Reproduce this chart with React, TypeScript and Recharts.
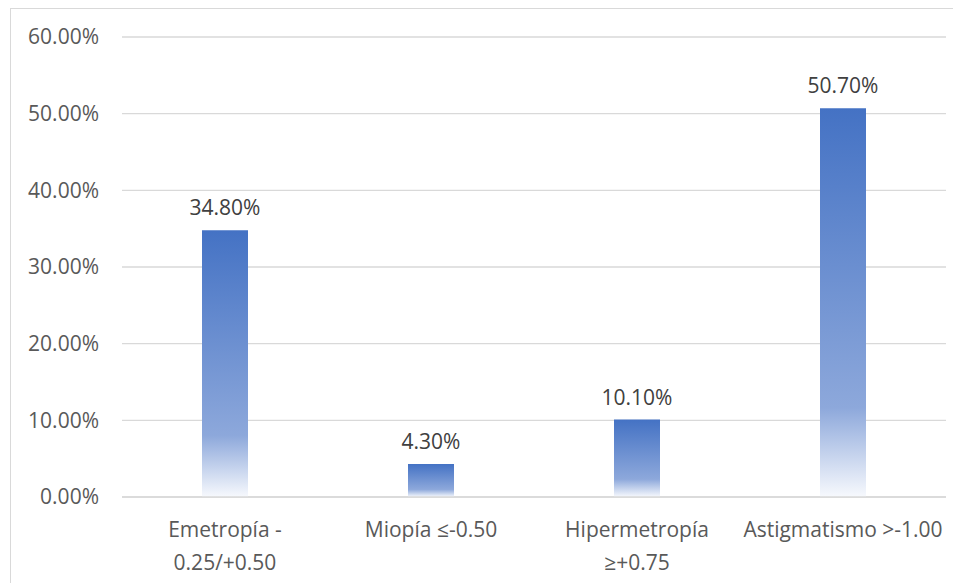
import React from "react";
import { BarChart, Bar, XAxis, YAxis, CartesianGrid, LabelList } from "recharts";

const categories = ["Emetropía -0.25/+0.50", "Miopía ≤-0.50", "Hipermetropía ≥+0.75", "Astigmatismo >-1.00"];
const categoryLines = [["Emetropía -", "0.25/+0.50"], ["Miopía ≤-0.50"], ["Hipermetropía", "≥+0.75"], ["Astigmatismo >-1.00"]];
const values = [34.8, 4.3, 10.1, 50.7];
const yTicks = [0, 10, 20, 30, 40, 50, 60];

const data = categories.map((c, i) => ({ name: c, value: values[i], idx: i }));

const FONT = "'Open Sans', sans-serif";
const FS = 21;

const XTick = (props: any) => {
  const { x, y, index } = props;
  const lines = categoryLines[index] || [String(props.payload.value)];
  return (
    <g>
      {lines.map((l, i) => (
        <text key={i} x={x} y={y + 32 + i * 33} textAnchor="middle" fill="#595959" fontSize={FS} fontFamily={FONT}>
          {l}
        </text>
      ))}
    </g>
  );
};

export default function App() {
  return (
    <div style={{ marginLeft: 2, width: 960, height: 575, border: "1px solid #d9d9d9", background: "#fff" }}>
      <BarChart width={960} height={575} data={data} margin={{ top: 28, right: 25, bottom: 0, left: 0 }}>
        <defs>
          <linearGradient id="barGrad" x1="0" y1="0" x2="0" y2="1">
            <stop offset="0" stopColor="#4472C4" />
            <stop offset="0.77" stopColor="#8DA8DB" />
            <stop offset="1" stopColor="#F7F9FD" />
          </linearGradient>
        </defs>
        <CartesianGrid vertical={false} stroke="#d9d9d9" strokeWidth={1.3} />
        <XAxis
          dataKey="name"
          height={87}
          axisLine={{ stroke: "#d9d9d9", strokeWidth: 1.3 }}
          tickLine={false}
          tick={<XTick />}
          interval={0}
        />
        <YAxis
          width={111}
          domain={[0, 60]}
          ticks={yTicks}
          axisLine={false}
          tickLine={false}
          tickSize={0}
          tickMargin={23}
          tickFormatter={(v: number) => v.toFixed(2) + "%"}
          tick={{ fill: "#595959", fontSize: FS, fontFamily: FONT }}
        />
        <Bar dataKey="value" fill="url(#barGrad)" barSize={46} isAnimationActive={false}>
          <LabelList
            dataKey="value"
            position="top"
            offset={15}
            formatter={(v: number) => v.toFixed(2) + "%"}
            fill="#404040"
            fontSize={FS}
            fontFamily={FONT}
          />
        </Bar>
      </BarChart>
    </div>
  );
}
